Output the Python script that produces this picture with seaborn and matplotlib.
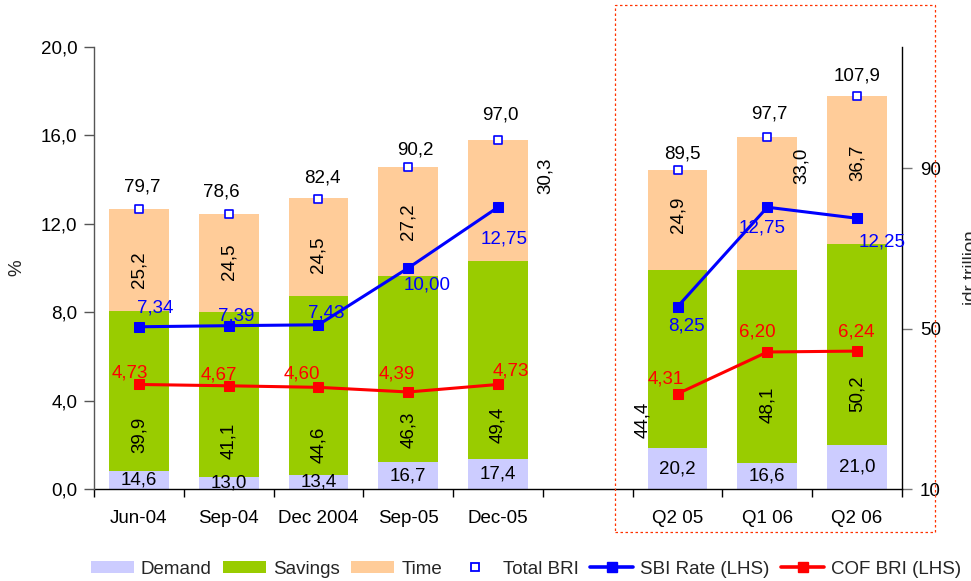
import numpy as np
import pandas as pd
import matplotlib
matplotlib.use("Agg")
import matplotlib.pyplot as plt
from matplotlib.patches import Rectangle, Patch
from matplotlib.lines import Line2D
from matplotlib.ticker import FuncFormatter, FixedLocator
import seaborn as sns

# ---- data ----
periods = ["Jun-04", "Sep-04", "Dec 2004", "Sep-05", "Dec-05", " ", "Q2 05", "Q1 06", "Q2 06"]
demand = [14.6, 13.0, 13.4, 16.7, 17.4, np.nan, 20.2, 16.6, 21.0]
savings = [39.9, 41.1, 44.6, 46.3, 49.4, np.nan, 44.4, 48.1, 50.2]
time_dep = [25.2, 24.5, 24.5, 27.2, 30.3, np.nan, 24.9, 33.0, 36.7]
total_bri = [79.7, 78.6, 82.4, 90.2, 97.0, np.nan, 89.5, 97.7, 107.9]
sbi_rate = [7.34, 7.39, 7.43, 10.00, 12.75, np.nan, 8.25, 12.75, 12.25]
cof_bri = [4.73, 4.67, 4.60, 4.39, 4.73, np.nan, 4.31, 6.20, 6.24]

# ---- styling ----
C_DEM, C_SAV, C_TIME = "#CCCCFF", "#99CC00", "#FFCC99"
C_SBI, C_COF = "#0000FF", "#FF0000"
FS = 13.5
AX_BOTTOM = 10  # idr axis starts here

# label offsets in pixels (dx, dy)
total_off = [(3, 22), (-7, 22), (4, 21), (7, 17), (2, 25), None, (5, 16), (2, 23), (0, 20)]
sbi_off = [(16, 19), (8, 10), (8, 12), (19, -17), (6, -32), None, (9, -19), (-5, -21), (25, -24)]
cof_off = [(-9, 11), (-10, 11), (-17, 13), (-11, 18), (13, 13), None, (-12, 15), (-10, 20), (-1, 19)]
sav_off = [(0, -44), (0, -46), (0, -59), (0, -61), (0, -65), None, (-35, -61), (0, -39), (0, -49)]
time_off = [(0, -10), (0, 1), (0, -7), (0, 0), (47, 25), None, (0, 5), (34, 38), (0, 7)]

sns.set_theme(style="white")
plt.rcParams["font.family"] = ["Liberation Sans", "DejaVu Sans"]

df = pd.DataFrame({"period": periods, "demand": demand, "savings": savings,
                   "time": time_dep, "total": total_bri,
                   "sbi": sbi_rate, "cof": cof_bri})
df["pos"] = np.arange(len(df))
df["segment"] = (df["pos"] > 5).astype(int)
df["cum_sav"] = df["demand"] + df["savings"]
df["cum_time"] = df["cum_sav"] + df["time"]
bars = df.dropna(subset=["demand"])

fig = plt.figure(figsize=(9.71, 5.81), dpi=100)
ax = fig.add_axes([94 / 971, 1 - 489 / 581, (902 - 94) / 971, (489 - 47) / 581])

# stacked bars drawn as cumulative overlays
for col, colr in [("cum_time", C_TIME), ("cum_sav", C_SAV), ("demand", C_DEM)]:
    sns.barplot(data=bars, x="period", y=col, order=periods, color=colr,
                saturation=1, width=0.667, errorbar=None, linewidth=0, ax=ax)

# total markers
sns.scatterplot(data=bars, x="pos", y="total", marker="s", s=36,
                facecolor="white", edgecolor=C_SBI, linewidth=1.2, ax=ax, zorder=5)

ax.set_xlim(-0.5, 8.5)
ax.set_ylim(AX_BOTTOM, 120.2)
ax.set_xlabel("")
ax.set_ylabel("")

ax2 = ax.twinx()
ax.yaxis.tick_right()
ax.yaxis.set_label_position("right")
ax2.yaxis.tick_left()
ax2.yaxis.set_label_position("left")

lines = df.dropna(subset=["sbi"])
sns.lineplot(data=lines, x="pos", y="sbi", units="segment", estimator=None,
             color=C_SBI, lw=2.2, marker="s", markersize=7, markeredgecolor=C_SBI,
             ax=ax2)
sns.lineplot(data=lines, x="pos", y="cof", units="segment", estimator=None,
             color=C_COF, lw=2.2, marker="s", markersize=7, markeredgecolor=C_COF,
             ax=ax2)
ax2.set_ylim(0, 20)
ax2.set_yticks(np.arange(0, 20.1, 4))
ax2.set_xlabel("")
ax2.set_ylabel("")

comma1 = lambda v: f"{v:.1f}".replace(".", ",")
comma2 = lambda v: f"{v:.2f}".replace(".", ",")
ax2.yaxis.set_major_formatter(FuncFormatter(lambda v, p: comma1(v)))
ax.set_yticks([10, 50, 90])
ax.yaxis.set_major_formatter(FuncFormatter(lambda v, p: f"{v:.0f}"))

# x axis: ticks at category boundaries, labels at centres
ax.xaxis.set_major_locator(FixedLocator(np.arange(-0.5, 8.6, 1)))
ax.xaxis.set_minor_locator(FixedLocator(np.arange(0, 9)))
ax.xaxis.set_major_formatter(FuncFormatter(lambda v, p: ""))
ax.xaxis.set_minor_formatter(FuncFormatter(lambda v, p: periods[int(round(v))].strip()))
ax.tick_params(axis="x", which="major", direction="out", length=6, width=1, color="black", bottom=True)
ax.tick_params(axis="x", which="minor", length=0, pad=15, labelsize=FS, labelcolor="black", bottom=True)
ax.tick_params(axis="y", which="major", direction="out", length=7, width=1, color="#777777",
               labelsize=FS, pad=6, right=True, left=False, labelcolor="black")
ax2.tick_params(axis="y", which="major", direction="out", length=7, width=1, color="#555555",
                labelsize=FS, pad=5, left=True, right=False, labelcolor="black")

for s in ["top", "left"]:
    ax.spines[s].set_visible(False)
ax.spines["bottom"].set_color("black")
ax.spines["right"].set_color("black")
ax.spines["bottom"].set_linewidth(1)
ax.spines["right"].set_linewidth(1)
for s in ["top", "right", "bottom"]:
    ax2.spines[s].set_visible(False)
ax2.spines["left"].set_color("#555555")
ax2.spines["left"].set_linewidth(1)

# data labels
def put(axis, x, y, text, off, color="black", rot=0):
    axis.annotate(text, xy=(x, y), xytext=off, textcoords="offset pixels",
                  ha="center", va="center", fontsize=FS, color=color,
                  rotation=rot, zorder=10, annotation_clip=False)

for i in range(len(periods)):
    if np.isnan(demand[i]):
        continue
    d, s, t = demand[i], savings[i], time_dep[i]
    put(ax, i, (AX_BOTTOM + d) / 2, comma1(d), (0, 0))
    put(ax, i, d + s / 2, comma1(s), sav_off[i], rot=90)
    put(ax, i, d + s + t / 2, comma1(t), time_off[i], rot=90)
    put(ax, i, total_bri[i], comma1(total_bri[i]), total_off[i])
    put(ax2, i, sbi_rate[i], comma2(sbi_rate[i]), sbi_off[i], color=C_SBI)
    put(ax2, i, cof_bri[i], comma2(cof_bri[i]), cof_off[i], color=C_COF)

# axis titles (the right one runs off the figure edge)
fig.text(17 / 971, 1 - 268 / 581, "%", rotation=90, ha="center", va="center", fontsize=FS)
fig.text(963 / 971, 1 - 268 / 581, "idr trillion", rotation=90, ha="left", va="center", fontsize=FS)

# dotted frame around the quarterly block
fig.patches.append(Rectangle((615 / 971, 1 - 532 / 581), (935 - 615) / 971, (532 - 5) / 581,
                             transform=fig.transFigure, fill=False, edgecolor="#FF3300",
                             linewidth=0.9, linestyle=(0, (2, 2))))

handles = [
    Patch(facecolor=C_DEM, edgecolor="none", label="Demand"),
    Patch(facecolor=C_SAV, edgecolor="none", label="Savings"),
    Patch(facecolor=C_TIME, edgecolor="none", label="Time"),
    Line2D([], [], ls="none", marker="s", markersize=6, markerfacecolor="white",
           markeredgecolor=C_SBI, markeredgewidth=1.3, label="Total BRI"),
    Line2D([], [], color=C_SBI, lw=2.6, marker="s", markersize=7, label="SBI Rate (LHS)"),
    Line2D([], [], color=C_COF, lw=2.6, marker="s", markersize=7, label="COF BRI (LHS)"),
]
fig.legend(handles=handles, loc="center", bbox_to_anchor=(526 / 971, 1 - 569 / 581),
           ncol=6, frameon=False, fontsize=FS, handlelength=2.3, handleheight=0.65,
           handletextpad=0.37, columnspacing=0.6, borderaxespad=0, borderpad=0)

fig.savefig("out.png", dpi=100)
